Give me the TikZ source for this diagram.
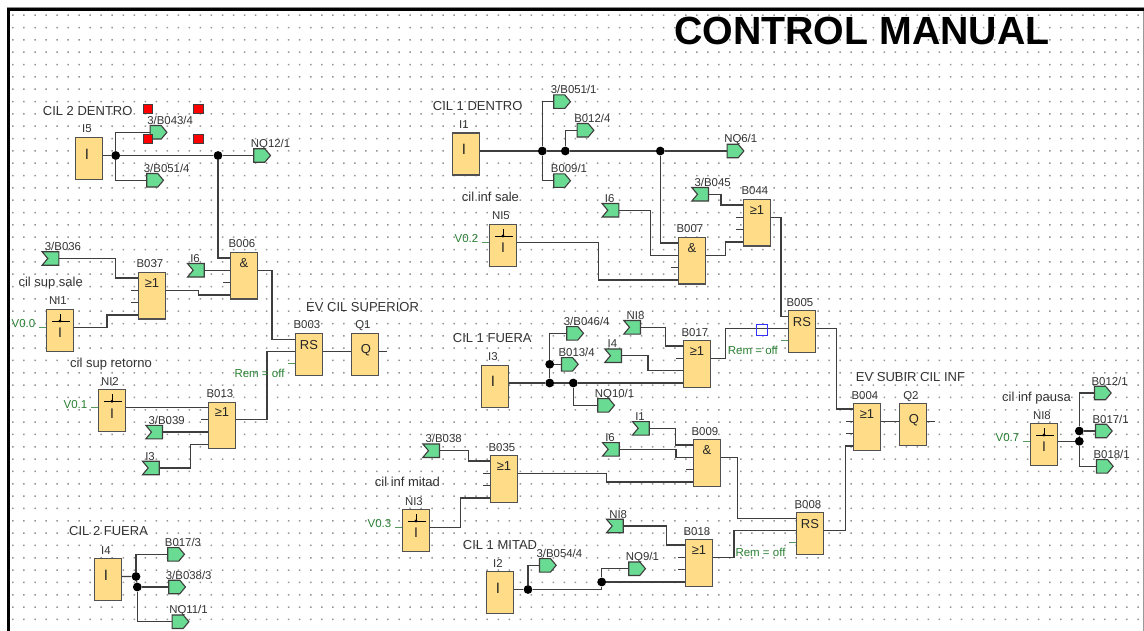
\documentclass[tikz,border=0pt]{standalone}
\usepackage{fontspec}
\setmainfont{Liberation Sans}
\usetikzlibrary{calc,shapes.symbols}
\definecolor{blockfill}{RGB}{255,221,136}
\definecolor{portfill}{RGB}{106,219,146}
\definecolor{linegray}{RGB}{62,62,62}
\definecolor{remgreen}{RGB}{42,128,52}
\tikzset{
  wire/.style={draw=linegray,line width=1.25pt},
  remstub/.style={draw=remgreen!80,line width=1.1pt},
  blockbox/.style={draw=linegray!90,fill=blockfill,line width=1.2pt,minimum width=26.7pt,inner sep=0pt,anchor=north west},
  blocksym/.style={inner sep=0pt,font=\fontsize{13}{14}\selectfont,text=black!85},
  blocklab/.style={inner sep=0pt,font=\fontsize{11.4}{12}\selectfont,text=black!80,text height=8pt,text depth=0pt},
  captext/.style={inner sep=0pt,anchor=west,font=\fontsize{13}{14}\selectfont,text=black!80,text height=9.4pt,text depth=0pt},
  smalltext/.style={inner sep=0pt,anchor=west,font=\fontsize{11.5}{12}\selectfont,text=remgreen,text height=8pt,text depth=0pt},
  outport/.style={signal,signal to=east,signal from=nowhere,signal pointer angle=100,draw=linegray,fill=portfill,line width=1.1pt,minimum width=16.7pt,minimum height=13.5pt,inner sep=0pt},
  inport/.style={signal,signal to=nowhere,signal from=west,signal pointer angle=100,draw=linegray,fill=portfill,line width=1.1pt,minimum width=16.7pt,minimum height=13.5pt,inner sep=0pt},
  dotjoin/.style={circle,fill=black,minimum size=8.8pt,inner sep=0pt},
  redmark/.style={draw=linegray,fill=red,line width=.8pt,minimum size=9.4pt,inner sep=0pt},
  bluemark/.style={draw=blue!80,line width=1pt,minimum size=11pt,inner sep=0pt}
}
% name, x, y, symbol, label
\newcommand{\gatebox}[5]{
  \node[blockbox,minimum height=46.5pt] (#1) at (#2,#3) {};
  \node[blocksym] (#1-sym) at ($(#1.north)+(0,11)$) {#4};
  \node[blocklab] (#1-lab) at ($(#1.north)+(-2,-8)$) {#5};
  \foreach \k/\d in {1/6,2/18.3,3/30.6,4/43} {\coordinate (#1-\k) at ($(#1.north west)+(0,\d)$);}
  \coordinate (#1-out) at ($(#1.north east)+(0,18.3)$);
}
\newcommand{\rsbox}[4]{
  \node[blockbox,minimum height=42pt] (#1) at (#2,#3) {};
  \node[blocksym] (#1-sym) at ($(#1.north)+(0,12)$) {RS};
  \node[blocklab] (#1-lab) at ($(#1.north)+(-2,-8)$) {#4};
  \foreach \k/\d in {1/6.7,2/18.3,3/30.8} {\coordinate (#1-\k) at ($(#1.north west)+(0,\d)$);}
  \coordinate (#1-out) at ($(#1.north east)+(0,18.3)$);
}
\newcommand{\qbox}[4]{
  \node[blockbox,minimum height=42pt] (#1) at (#2,#3) {};
  \node[blocksym] (#1-sym) at ($(#1.north)+(1,17)$) {Q};
  \node[blocklab] (#1-lab) at ($(#1.north)+(-2,-8)$) {#4};
  \coordinate (#1-in) at ($(#1.north west)+(0,18.3)$);
  \coordinate (#1-out) at ($(#1.north east)+(0,18.3)$);
}
\newcommand{\inbox}[4]{
  \node[blockbox,minimum height=42pt] (#1) at (#2,#3) {};
  \node[blocksym,font=\fontsize{15}{16}\selectfont] (#1-sym) at ($(#1.north)+(-2,17)$) {I};
  \node[blocklab] (#1-lab) at ($(#1.north)+(-2,-8)$) {#4};
  \coordinate (#1-out) at ($(#1.north east)+(0,18.5)$);
}
% name, x, y, label, variable
\newcommand{\netbox}[5]{
  \node[blockbox,minimum height=42pt] (#1) at (#2,#3) {};
  \node[blocksym,font=\fontsize{14}{15}\selectfont] (#1-sym) at ($(#1.north)+(0,24)$) {I};
  \node[blocklab] (#1-lab) at ($(#1.north)+(-2,-8)$) {#4};
  \coordinate (#1-out) at ($(#1.north east)+(0,18.3)$);
  \coordinate (#1-in) at ($(#1.north west)+(0,18.3)$);
  \draw[black,line width=.6pt] ($(#1.north)+(-8,12)$) -- ($(#1.north)+(10,12)$);
  \draw[black,line width=.6pt] ($(#1.north)+(0,5)$) -- ($(#1.north)+(0,12)$);
  \fill[black] ($(#1.north)+(0,12)$) circle (1.6);
  \draw[remstub] (#1-in) -- ++(-7,0);
  \node[smalltext,anchor=east] (#1-var) at ($(#1-in)+(-10.5,-3.5)$) {#5};
}
\newcommand{\outbox}[4]{
  \node[outport] (#1) at (#2,#3) {};
  \node[blocklab,anchor=west] (#1-lab) at (#2-8.6,#3-12) {#4};
}
\newcommand{\inpbox}[4]{
  \node[inport] (#1) at (#2,#3) {};
  \node[blocklab,anchor=west] (#1-lab) at (#2-8.6,#3-12) {#4};
}
\begin{document}
\begin{tikzpicture}[x=1pt,y=-1pt]
  \useasboundingbox (0,0) rectangle (1144,631);
  \fill[white] (0,0) rectangle (1144,631);
  % dot grid of the sheet
  \fill[black!42] \foreach \i in {0,...,102} {\foreach \j in {0,...,49} {
    (12.2+11.03*\i,14.5+12.33*\j) rectangle ++(1.5,1.5)
  }};
  \draw[black!45,line width=1pt] (7,7.7) -- (1144,7.7);
  \draw[black!40,line width=1pt] (1143.5,9) -- (1143.5,631);
  \draw[black,line width=3pt] (8.5,631) -- (8.5,9.6) -- (1144,9.6);

  \node[inner sep=0pt,anchor=west,font=\fontsize{39.3}{40}\selectfont\bfseries,text height=28pt,text depth=0pt] (title) at (674,31) {CONTROL MANUAL};

  % upper left group
  \inbox{i5}{75}{137}{I5}
  \gatebox{b037}{138}{272}{≥1}{B037}
  \gatebox{b006}{230}{252}{\&}{B006}
  \netbox{ni1}{46}{309}{NI1}{V0.0}
  \netbox{ni2}{98}{389.2}{NI2}{V0.1}
  \gatebox{b013}{208}{401.5}{≥1}{B013}
  \rsbox{b003}{295}{333}{B003}
  \qbox{q1}{351}{333}{Q1}
  \node[dotjoin] (j1) at (115.7,155.5) {};
  \node[dotjoin] (j2) at (218,155.5) {};
  \outbox{p043}{155.7}{132.3}{3/B043/4}
  \outbox{p051}{152.3}{180.3}{3/B051/4}
  \outbox{nq12}{259.3}{155.5}{NQ12/1}
  \inpbox{p036}{53.3}{258.5}{3/B036}
  \inpbox{i6a}{198.7}{270.3}{I6}
  \inpbox{p039}{157}{432.1}{3/B039}
  \inpbox{i3a}{153.7}{468}{I3}
  \draw[wire] (i5-out) -- (j1) -- (j2) -- (nq12.west);
  \draw[wire] (j1) |- (p043.west);
  \draw[wire] (j1) |- (p051.west);
  \draw[wire] (j2) |- (b006-1);
  \draw[wire] (p036.east) -- ++(56,0) |- (b037-1);
  \draw[wire] (i6a.east) -- (b006-2);
  \draw[wire] (b037-out) -- ++(32.7,0) |- (b006-4);
  \draw[wire] (ni1-out) -- ++(33.2,0) |- (b037-4);
  \draw[wire] (b006-out) -- ++(14,0) |- (b003-1);
  \draw[wire] (ni2-out) -- (b013-1);
  \draw[wire] (p039.east) -- (b013-3);
  \draw[wire] (i3a.east) -- ++(30.7,0) |- (b013-4);
  \draw[wire] (b013-out) -- ++(31,0) |- (b003-2);
  \draw[wire] (b003-out) -- (q1-in);
  \draw[wire] (q1-out) -- ++(8,0);
  \foreach \p in {b037-2,b037-3,b006-3,b013-2} {\draw[wire] (\p) -- ++(-7,0);}
  \draw[remstub] (b003-3) -- ++(-7,0);
  \node[smalltext] (rem1) at (234.3,373.3) {Rem = off};
  \node[captext] (txt1) at (306,306.7) {EV CIL SUPERIOR};
  \node[captext] (txt2) at (42.7,110.7) {CIL 2 DENTRO};
  \node[captext] (txt3) at (18.3,282) {cil sup sale};
  \node[captext] (txt4) at (70,362.3) {cil sup retorno};
  \foreach \n/\x/\y in {m1/147.7/109,m2/198.3/109,m3/147.7/139,m4/198.3/139} {
    \node[redmark] (\n) at (\x,\y) {};
  }

  % lower left group
  \inbox{i4}{94}{558}{I4}
  \node[dotjoin] (j3) at (136,576.5) {};
  \node[dotjoin] (j4) at (137.3,587) {};
  \outbox{p017}{173.3}{554.3}{B017/3}
  \outbox{p038}{174.3}{587}{3/B038/3}
  \outbox{nq11}{177.7}{621.7}{NQ11/1}
  \draw[wire] (i4-out) -- (j3) -- (j4);
  \draw[wire] (j3) |- (p017.west);
  \draw[wire] (j4) -- (p038.west);
  \draw[wire] (j4) |- (nq11.west);
  \node[captext] (txt5) at (69,530.7) {CIL 2 FUERA};

  % upper middle group
  \inbox{i1}{452}{132.5}{I1}
  \netbox{ni5}{489}{224}{NI5}{V0.2}
  \gatebox{b007}{678}{237}{\&}{B007}
  \gatebox{b044}{743}{199}{≥1}{B044}
  \rsbox{b005}{788}{310}{B005}
  \node[dotjoin] (j5) at (542.3,151) {};
  \node[dotjoin] (j6) at (565.3,151) {};
  \node[dotjoin] (j7) at (660.3,151) {};
  \outbox{p051b}{559.3}{101.7}{3/B051/1}
  \outbox{p012}{582.7}{130.3}{B012/4}
  \outbox{nq6}{732.7}{151}{NQ6/1}
  \outbox{p009}{559.3}{180.7}{B009/1}
  \inpbox{p045}{703}{194.3}{3/B045}
  \inpbox{i6b}{613.3}{210.3}{I6}
  \draw[wire] (i1-out) -- (j5) -- (j6) -- (j7) -- (nq6.west);
  \draw[wire] (j5) |- (p051b.west);
  \draw[wire] (j5) |- (p009.west);
  \draw[wire] (j6) |- (p012.west);
  \draw[wire] (j7) |- (b007-1);
  \draw[wire] (p045.east) -- ++(12,0) |- (b044-1);
  \draw[wire] (i6b.east) -- ++(31,0) |- (b007-2);
  \draw[wire] (ni5-out) -- ++(81.7,0) |- (b007-4);
  \draw[wire] (b007-out) -- ++(19.6,0) |- (b044-4);
  \draw[wire] (b044-out) -- ++(10,0) |- (b005-1);
  \foreach \p in {b007-3,b044-2,b044-3} {\draw[wire] (\p) -- ++(-7,0);}
  \draw[remstub] (b005-3) -- ++(-7,0);
  \node[captext] (txt6) at (432.7,105.7) {CIL 1 DENTRO};
  \node[captext] (txt7) at (461.7,197) {cil inf sale};

  % lower middle group
  \inbox{i3}{481}{364.5}{I3}
  \gatebox{b017}{683}{340}{≥1}{B017}
  \gatebox{b009}{693}{439}{\&}{B009}
  \gatebox{b035}{490}{455}{≥1}{B035}
  \netbox{ni3}{402}{509}{NI3}{V0.3}
  \rsbox{b008}{796}{512}{B008}
  \gatebox{b018}{685}{539}{≥1}{B018}
  \inbox{i2}{486}{571}{I2}
  \node[dotjoin] (j8) at (549.7,364.3) {};
  \node[dotjoin] (j9) at (549.7,383) {};
  \node[dotjoin] (j10) at (573.3,383) {};
  \node[dotjoin] (j11) at (528,589.5) {};
  \node[dotjoin] (j12) at (601.7,582) {};
  \outbox{p046}{572.3}{333.3}{3/B046/4}
  \outbox{p013}{567}{364.3}{B013/4}
  \outbox{nq10}{603.3}{405.3}{NQ10/1}
  \outbox{nq9}{634.3}{568.7}{NQ9/1}
  \outbox{p054}{545}{565.3}{3/B054/4}
  \inpbox{ni8a}{635}{327.3}{NI8}
  \inpbox{i4a}{616}{355.7}{I4}
  \inpbox{i1a}{643.7}{428.3}{I1}
  \inpbox{i6c}{613.7}{449.3}{I6}
  \inpbox{p038b}{434}{450.7}{3/B038}
  \inpbox{ni8b}{617.7}{526}{NI8}
  \draw[wire] (i3-out) -- (j9) -- (j10) -- (b017-4);
  \draw[wire] (j9) -- (j8) -- (p013.west);
  \draw[wire] (j8) |- (p046.west);
  \draw[wire] (j10) |- (nq10.west);
  \draw[wire] (ni8a.east) -- ++(24.7,0) |- (b017-1);
  \draw[wire] (i4a.east) -- ++(26,0) |- (b017-3);
  \draw[wire] (b017-out) -- ++(14.3,0) |- (b005-2);
  \draw[wire] (i1a.east) -- ++(25.7,0) |- (b009-1);
  \draw[wire] (i6c.east) -- ++(56.3,0) |- (b009-2);
  \draw[wire] (p038b.east) -- ++(28.4,0) |- (b035-1);
  \draw[wire] (b035-out) -- ++(88.3,0) |- (b009-4);
  \draw[wire] (ni3-out) -- ++(30.3,0) |- (b035-4);
  \draw[wire] (b009-out) -- ++(16.7,0) |- (b008-1);
  \draw[wire] (b018-out) -- ++(21,0) |- (b008-2);
  \draw[wire] (ni8b.east) -- ++(43,0) |- (b018-1);
  \draw[wire] (i2-out) -- (j11) -| (j12) -- (b018-4);
  \draw[wire] (j12) |- (nq9.west);
  \draw[wire] (j11) |- (p054.west);
  \foreach \p in {b017-2,b009-3,b035-2,b035-3,b018-2,b018-3} {\draw[wire] (\p) -- ++(-7,0);}
  \draw[remstub] (b008-3) -- ++(-7,0);
  \node[bluemark] (sel) at (761.7,330) {};
  \node[smalltext] (rem2) at (727.7,350) {Rem = off};
  \node[smalltext] (rem3) at (735.3,552.3) {Rem = off};
  \node[captext] (txt8) at (452.7,337.7) {CIL 1 FUERA};
  \node[captext] (txt9) at (374.7,482) {cil inf mitad};
  \node[captext] (txt10) at (462.7,544.7) {CIL 1 MITAD};

  % right group
  \gatebox{b004}{853}{403}{≥1}{B004}
  \qbox{q2}{899}{403}{Q2}
  \netbox{ni8}{1030}{423}{NI8}{V0.7}
  \node[dotjoin] (j13) at (1079.3,431) {};
  \node[dotjoin] (j14) at (1079.3,441.3) {};
  \outbox{p012b}{1100}{393}{B012/1}
  \outbox{p017b}{1101}{431}{B017/1}
  \outbox{p018b}{1102}{466.3}{B018/1}
  \draw[wire] (b005-out) -- ++(20.7,0) |- (b004-1);
  \draw[wire] (b008-out) -- ++(21.6,0) |- (b004-4);
  \draw[wire] (b004-out) -- (q2-in);
  \draw[wire] (q2-out) -- ++(8,0);
  \foreach \p in {b004-2,b004-3} {\draw[wire] (\p) -- ++(-7,0);}
  \draw[wire] (ni8-out) -- (j14) -- (j13) -- (p017b.west);
  \draw[wire] (j13) |- (p012b.west);
  \draw[wire] (j14) |- (p018b.west);
  \node[captext] (txt11) at (855.7,377) {EV SUBIR CIL INF};
  \node[captext] (txt12) at (1002,397) {cil inf pausa};
\end{tikzpicture}
\end{document}
